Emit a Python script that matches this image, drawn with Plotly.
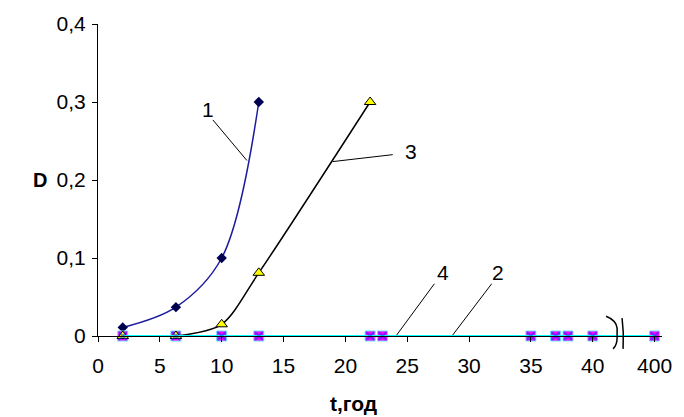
import plotly.graph_objects as go

# ---- data ----
t1 = [2, 6.3, 10, 13]
D1 = [0.011, 0.037, 0.1, 0.3]

t3 = [2, 6.3, 10, 13, 22]
D3 = [0, 0, 0.015, 0.081, 0.3]

t2 = [2, 6.3, 10, 13, 22, 23, 35, 37, 38, 40, 400]
D2 = [0, 0, 0, 0, 0, 0, 0, 0, 0, 0, 0]

t4 = [2, 6.3, 10, 13, 22, 23, 35, 37, 38, 40, 400]
D4 = [0, 0, 0, 0, 0, 0, 0, 0, 0, 0, 0]

x_tick_vals = [0, 5, 10, 15, 20, 25, 30, 35, 40, 45]
x_tick_text = ["0", "5", "10", "15", "20", "25", "30", "35", "40", "400"]
y_tick_vals = [0, 0.1, 0.2, 0.3, 0.4]
y_tick_text = ["0", "0,1", "0,2", "0,3", "0,4"]

BREAK_AT = 40
BREAK_POS = 45


def axis_pos(t):
    """Broken time axis: values above 40 are drawn at the '400' slot."""
    return [v if v <= BREAK_AT else BREAK_POS for v in t]


FONT = "Liberation Sans, Arial, sans-serif"

fig = go.Figure()

# series 1 (navy diamonds)
fig.add_trace(go.Scatter(
    x=axis_pos(t1), y=D1, mode="lines+markers", cliponaxis=False,
    line=dict(color="#1c1c9e", width=1.5, shape="spline", smoothing=1),
    marker=dict(symbol="diamond", size=8, color="#000050"),
))
# series 2 (magenta squares)
fig.add_trace(go.Scatter(
    x=axis_pos(t2), y=D2, mode="lines+markers", cliponaxis=False,
    line=dict(color="#FF00FF", width=1.5),
    marker=dict(symbol="square", size=10, color="#FF00FF",
                line=dict(color="#66e0ff", width=1)),
))
# series 3 (black line, yellow triangles)
fig.add_trace(go.Scatter(
    x=axis_pos(t3), y=D3, mode="lines+markers", cliponaxis=False,
    line=dict(color="#000000", width=1.5, shape="spline", smoothing=0.8),
    marker=dict(symbol="triangle-up", size=10, color="#FFFF00",
                line=dict(color="#000000", width=1)),
))
# series 4 (cyan line, x markers)
fig.add_trace(go.Scatter(
    x=axis_pos(t4), y=D4, mode="lines+markers", cliponaxis=False,
    line=dict(color="#00FFFF", width=2),
    marker=dict(symbol="x-thin", size=8, color="#00FFFF", opacity=0.55,
                line=dict(color="#0040ff", width=2)),
))

# leader lines for curve labels
leaders = [
    ("1", (9.29, 0.277), (12.04, 0.225), (8.9, 0.291)),
    ("3", (18.98, 0.2236), (23.83, 0.2325), (25.3, 0.236)),
    ("4", (24.15, 0.0013), (27.2, 0.067), (27.9, 0.081)),
    ("2", (28.68, 0.0013), (31.83, 0.067), (32.3, 0.081)),
]
for label, p0, p1, ptxt in leaders:
    fig.add_shape(type="line", x0=p0[0], y0=p0[1], x1=p1[0], y1=p1[1],
                  xref="x", yref="y", line=dict(color="#000000", width=1))
    fig.add_annotation(x=ptxt[0], y=ptxt[1], text=label, showarrow=False,
                       xref="x", yref="y",
                       font=dict(family=FONT, size=21, color="#000000"))

# axis break symbol (decoration, paper coordinates)
fig.add_shape(type="path", xref="paper", yref="paper",
              path="M 0.9009,0.0635 Q 0.9186,0.0508 0.9204,0.0254 L 0.9204,-0.0063 "
                   "Q 0.9204,-0.0286 0.9133,-0.0413",
              line=dict(color="#000000", width=1.5))
fig.add_shape(type="path", xref="paper", yref="paper",
              path="M 0.9292,0.0571 Q 0.9327,0.0095 0.9310,-0.0413",
              line=dict(color="#000000", width=1.5))

# axis titles
fig.add_annotation(text="<b>D</b>", x=-0.102, y=0.5, xref="paper", yref="paper",
                   xanchor="center", yanchor="middle", showarrow=False,
                   font=dict(family=FONT, size=20, color="#000"))
fig.add_annotation(text="<b>t,год</b>", x=0.453, y=-0.215, xref="paper", yref="paper",
                   xanchor="center", yanchor="middle", showarrow=False,
                   font=dict(family=FONT, size=21, color="#000"))

fig.update_layout(
    width=684, height=417,
    margin=dict(l=98, r=21, t=21, b=81),
    paper_bgcolor="white", plot_bgcolor="white",
    showlegend=False,
    font=dict(family=FONT, size=21, color="#000000"),
)
fig.update_xaxes(
    range=[0, 45.6], tickmode="array", tickvals=x_tick_vals, ticktext=x_tick_text,
    showline=True, linecolor="#000000", linewidth=1, showgrid=False, zeroline=False,
    ticks="outside", ticklen=5, tickcolor="#000000", ticklabelstandoff=6,
    tickfont=dict(family=FONT, size=21, color="#000000"),
)
fig.update_yaxes(
    range=[0, 0.4], tickmode="array", tickvals=y_tick_vals, ticktext=y_tick_text,
    showline=True, linecolor="#000000", linewidth=1, showgrid=False, zeroline=False,
    ticks="outside", ticklen=5, tickcolor="#000000", ticklabelstandoff=2,
    tickfont=dict(family=FONT, size=21, color="#000000"),
)

fig.write_html("out.html", config={"displayModeBar": False},
               post_script="document.body.style.margin='0';")
